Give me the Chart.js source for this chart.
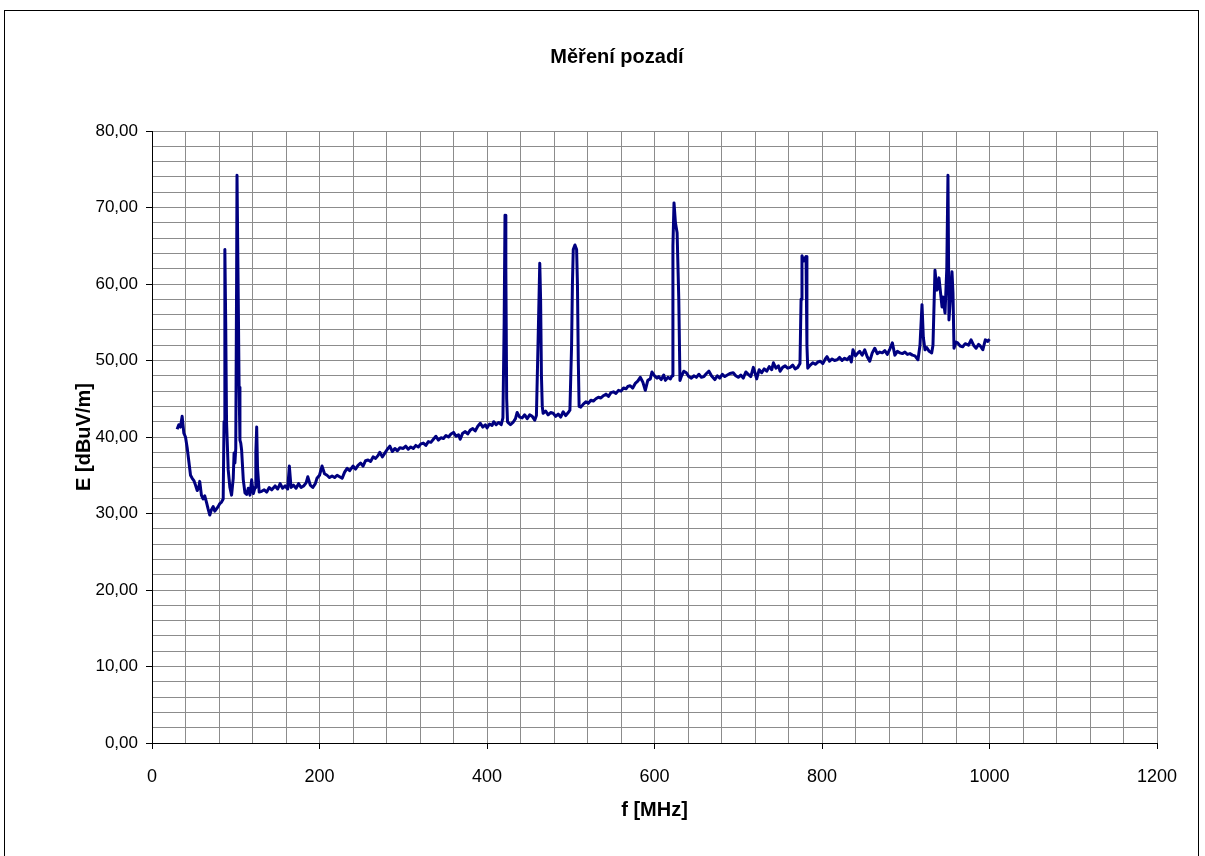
<!DOCTYPE html>
<html>
<head>
<meta charset="utf-8">
<script src="https://cdn.jsdelivr.net/npm/chart.js@4.4.0/dist/chart.umd.min.js"></script>
<style>
  html, body { margin: 0; padding: 0; background: #ffffff; overflow: hidden; }
  #frame { position: absolute; left: 4px; top: 10px; width: 1195px; height: 900px; border: 1px solid #000; box-sizing: border-box; }
  #wrap { position: absolute; left: 0; top: 0; width: 1205px; height: 856px; }
</style>
</head>
<body>
<div id="frame"></div>
<div id="wrap"><canvas id="c" width="1205" height="856"></canvas></div>
<script>
const chartTitle = "Měření pozadí";
const xTitle = "f [MHz]";
const yTitle = "E [dBuV/m]";
const xTicks = [0, 200, 400, 600, 800, 1000, 1200];
const yTicks = ["0,00", "10,00", "20,00", "30,00", "40,00", "50,00", "60,00", "70,00", "80,00"];

const freq = [
30,32,34,36,38,40,42,44,46,48,50,52,54,56,57,59,61,63,65,67,69,71,73,75,77,79,81,83,85,86,87,88,89,91,93,95,97,98,99,100,101,101.5,103,104,105,106,107,109,111,113,115,117,119,121,123,124,125,126,128,131,134,137,140,143,147,150,153,156,159,162,164,166,169,172,175,178,181,184,186,189,192,195,197,200,203,206,209,212,215,218,221,224,227,230,233,236,240,243,246,249,252,255,258,261,264,267,270,272,275,278,281,284,287,290,293,296,300,303,306,309,312,315,318,321,324,327,330,333,336,339,342,345,348,351,354,357,360,363,366,368,371,374,377,380,383,386,389,392,395,398,400,403,406,408,411,414,417,419,420.5,421.5,422.5,423.5,424.5,426,428,431,434,436,439,442,445,448,451,454,457,459,461.5,463,464,465,466,467,470,473,476,479,482,485,488,491,494,497,499,501,502,503,505,507,508,509,510,512,515,518,521,524,527,530,533,536,539,542,545,548,551,554,557,560,563,566,568,571,574,577,580,583,586,589,592,595,597,600,603,605,608,611,613,616,619,621,622,623.3,625,627,629,630.4,632,635,638,641,644,647,650,653,656,659,662,665,668,672,675,678,681,684,687,690,694,697,700,703,706,709,712,715,718,720,722,725,728,731,734,737,740,742,745,748,750,753,756,759,762,765,768,771,773.7,775,776.1,778,780.9,782,783,786,789,792,795,798,801,804,806,809,812,815,818,821,824,827,830,833,835,837,840,843,845,848,851,854,857,860,863,866,869,872,875,878,881,884,887,890,893,896,899,902,905,908,911,914.6,917,919.4,921,923,925,928,931,932.5,934.9,937.3,939.7,943.3,944.5,946.9,949,950.4,951.6,955.2,956.4,957.6,960,962,965,968,971,975,978,981,984,987,989,992,995,998,1000
];
const level = [
41.0,41.6,41.3,42.7,40.5,40.0,38.6,36.8,35.0,34.6,34.3,33.7,33.0,33.5,34.2,32.4,31.9,32.3,31.5,30.6,29.8,30.5,30.9,30.3,30.6,30.9,31.3,31.5,31.9,42.0,64.5,55.0,42.0,35.7,33.4,32.4,34.6,37.9,36.6,38.5,60.0,74.2,58.0,46.5,39.6,39.2,38.3,34.4,32.7,32.5,33.3,32.4,34.4,32.6,33.4,38.0,41.3,36.0,32.8,32.9,33.1,32.8,33.4,33.1,33.6,33.2,33.9,33.3,33.6,33.2,36.2,33.4,33.7,33.3,33.9,33.4,33.6,34.0,34.8,33.7,33.4,33.9,34.6,35.0,36.2,35.2,35.0,34.7,34.9,34.7,35.0,34.8,34.6,35.4,35.9,35.6,36.2,35.8,36.3,36.6,36.2,36.9,37.0,36.8,37.4,37.2,37.6,38.0,37.4,37.9,38.4,38.8,38.1,38.5,38.2,38.6,38.5,38.8,38.4,38.7,38.5,38.9,38.7,39.1,39.2,38.9,39.4,39.3,39.7,40.1,39.6,39.9,39.8,40.2,40.0,40.4,40.6,40.1,40.3,39.7,40.5,40.7,40.4,40.9,41.1,40.8,41.4,41.8,41.3,41.6,41.2,41.7,41.5,42.0,41.6,41.9,41.6,42.5,55.0,69.0,62.0,45.0,42.0,41.8,41.6,41.9,42.4,43.2,42.6,42.5,42.9,42.4,42.9,42.7,42.2,42.8,55.0,62.7,58.0,48.0,44.0,43.1,43.4,42.9,43.2,43.1,42.7,43.0,42.6,43.3,42.8,43.2,43.5,52.0,60.0,64.5,65.1,64.5,60.0,50.0,44.0,43.9,44.3,44.6,44.4,44.8,44.7,45.0,45.2,45.1,45.4,45.6,45.3,45.8,45.9,45.7,46.1,46.0,46.4,46.3,46.6,46.7,46.4,47.0,47.3,47.8,47.2,46.1,47.4,47.6,48.5,48.0,47.7,47.9,47.5,48.1,47.4,47.8,47.6,48.0,65.0,70.6,68.0,66.7,58.0,47.4,47.9,48.6,48.4,47.9,47.7,48.0,47.8,48.2,47.8,47.9,48.3,48.6,48.0,47.5,48.0,47.7,48.2,47.9,48.1,48.3,48.4,48.0,47.8,48.1,47.7,48.5,48.2,47.9,49.1,48.4,47.6,48.8,48.4,48.9,48.6,49.2,48.8,49.7,49.0,49.3,48.6,49.1,49.3,49.0,49.1,49.4,48.9,49.1,49.6,58.0,63.7,63.0,63.6,52.0,49.0,49.4,49.7,49.5,49.8,49.9,49.6,50.2,50.5,49.9,50.2,50.0,50.1,50.4,50.0,50.3,50.1,50.5,49.8,51.4,50.6,51.0,51.2,50.7,51.4,50.5,49.9,51.0,51.6,50.9,51.1,51.0,51.3,50.8,51.5,52.3,50.7,51.2,51.0,50.9,51.1,50.8,50.9,50.7,50.6,50.1,52.0,57.3,53.0,51.4,51.7,51.2,51.0,52.0,61.8,59.2,60.8,57.0,58.3,56.2,62.0,74.2,55.3,61.6,58.8,51.6,52.4,52.3,51.9,51.8,52.2,52.0,52.7,52.0,51.6,52.1,51.9,51.4,52.7,52.5,52.8,53.2
];

const points = freq.map((f, i) => ({ x: f, y: level[i] }));

const FONT = "'Liberation Sans', Arial, sans-serif";

const titlePlugin = {
  id: 'mainTitle',
  afterDraw(chart) {
    const ctx = chart.ctx;
    ctx.save();
    ctx.fillStyle = '#000';
    ctx.font = "bold 20px " + FONT;
    ctx.textAlign = 'center';
    ctx.textBaseline = 'middle';
    ctx.fillText(chartTitle, 617, 57);
    ctx.restore();
  }
};

new Chart(document.getElementById('c'), {
  type: 'scatter',
  data: {
    datasets: [{
      data: points,
      showLine: true,
      borderColor: '#000080',
      backgroundColor: '#000080',
      borderWidth: 3,
      pointRadius: 0,
      tension: 0,
      borderJoinStyle: 'round'
    }]
  },
  options: {
    responsive: false,
    animation: false,
    layout: { padding: { top: 131, right: 48, bottom: 0, left: 0 } },
    plugins: { legend: { display: false }, tooltip: { enabled: false }, title: { display: false } },
    scales: {
      x: {
        type: 'linear',
        min: 0, max: 1200,
        afterFit(s) { s.height = 113; },
        ticks: {
          stepSize: 40,
          autoSkip: false,
          maxRotation: 0,
          padding: 17,
          color: '#000',
          font: { family: FONT, size: 18 },
          callback: (v) => (xTicks.includes(v) ? String(v) : '')
        },
        grid: {
          color: '#8c8c8c',
          lineWidth: 1,
          tickLength: 6,
          tickColor: (ctx) => (ctx.tick && xTicks.includes(ctx.tick.value) ? '#000' : 'rgba(0,0,0,0)')
        },
        border: { display: true, color: '#000', width: 1 },
        title: { display: true, text: xTitle, color: '#000', font: { family: FONT, size: 20, weight: 'bold' }, padding: { top: 0, bottom: 34 } }
      },
      y: {
        type: 'linear',
        min: 0, max: 80,
        afterFit(s) { s.width = 152; },
        ticks: {
          stepSize: 2,
          autoSkip: false,
          padding: 8,
          color: '#000',
          font: { family: FONT, size: 17 },
          callback: (v) => (v % 10 === 0 ? yTicks[v / 10] : '')
        },
        grid: {
          color: '#8c8c8c',
          lineWidth: 1,
          tickLength: 6,
          tickColor: (ctx) => (ctx.tick && ctx.tick.value % 10 === 0 ? '#000' : 'rgba(0,0,0,0)')
        },
        border: { display: true, color: '#000', width: 1 },
        title: { display: true, text: yTitle, color: '#000', font: { family: FONT, size: 20, weight: 'bold' }, padding: { top: 72, bottom: 0 } }
      }
    }
  },
  plugins: [titlePlugin]
});
</script>
</body>
</html>
